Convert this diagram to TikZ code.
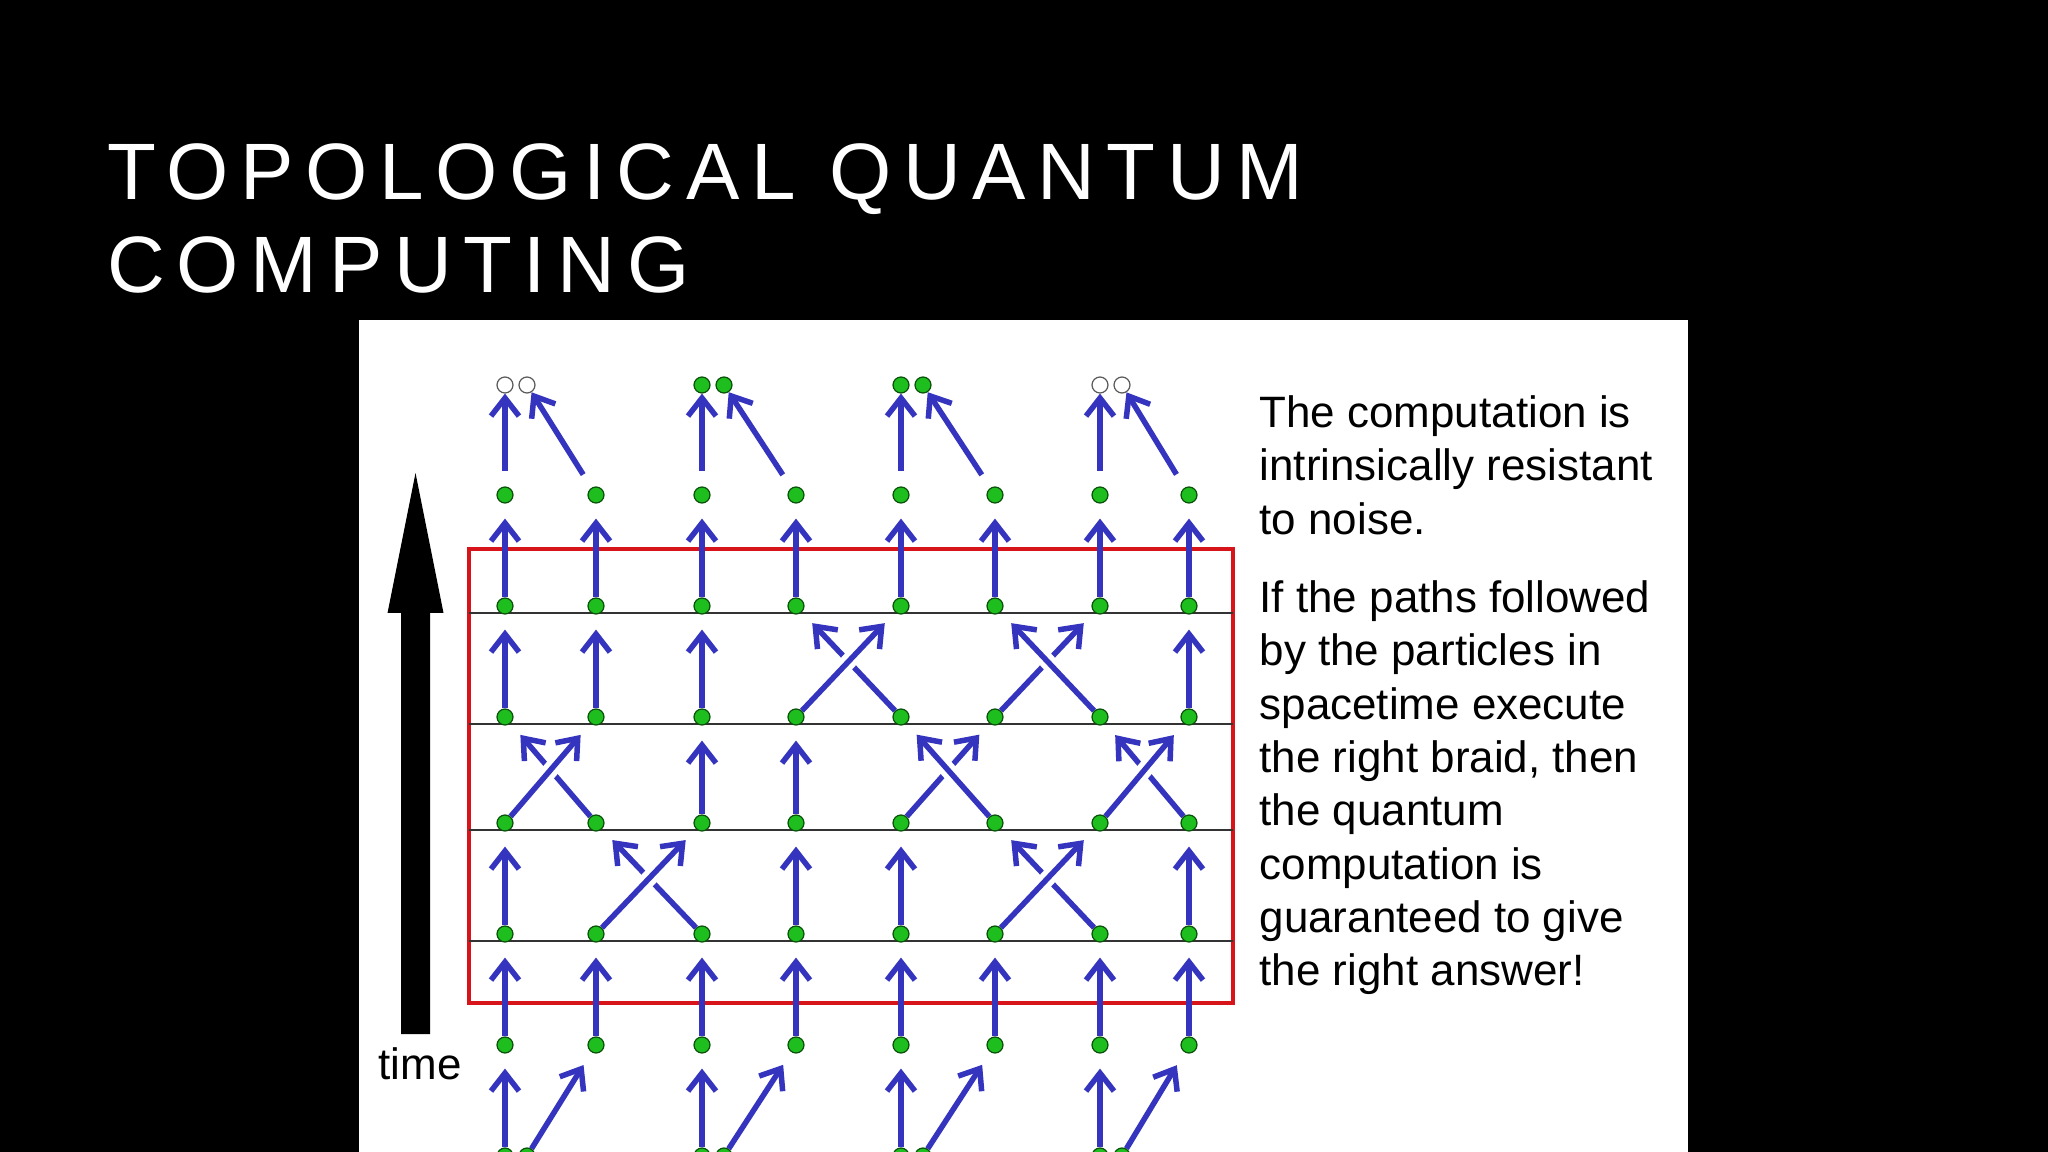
\documentclass[tikz,border=0pt]{standalone}
\usepackage{fontspec}
\setmainfont{Liberation Sans}
\newfontfamily\titlefont[LetterSpace=14.5]{Liberation Sans}
\usepackage{tikz}
\usetikzlibrary{arrows.meta,backgrounds}
\usepackage{xcolor}
\definecolor{braidblue}{RGB}{52,52,190}
\definecolor{dotgreen}{RGB}{30,190,30}
\definecolor{dotrim}{RGB}{10,80,10}
\definecolor{boxred}{RGB}{215,20,25}

\begin{document}
\begin{tikzpicture}[
  dot/.style={circle, draw=dotrim, fill=dotgreen, line width=0.12mm, minimum size=1.6mm, inner sep=0pt},
  hole/.style={dot, draw=black!65, fill=white},
  world/.style={draw=braidblue, line width=0.55mm, -{Straight Barb[length=1.8mm, width=2.8mm]}, shorten >=1.5mm},
  over/.style={world, preaction={draw=white, line width=1.6mm, arrows=-, shorten <=3mm, shorten >=3mm}},
  merge/.style={world, shorten <=1.55mm, shorten >=0pt},
  slice/.style={draw=black!80, line width=0.15mm},
  note/.style={font=\fontsize{12.5}{15.17}\selectfont, align=left, inner sep=0pt, anchor=north west}
]
\useasboundingbox (0,0) rectangle (20.48,-11.52);
\begin{scope}[on background layer]
\fill[black] (0,0) rectangle (20.48,-11.52);
\fill[white] (3.59,-3.20) rectangle (16.88,-11.52);
\draw[boxred, line width=0.45mm] (4.69,-5.49) rectangle (12.33,-10.03);
\draw[slice] (4.69,-6.13) -- (12.33,-6.13);
\draw[slice] (4.69,-7.24) -- (12.33,-7.24);
\draw[slice] (4.69,-8.30) -- (12.33,-8.30);
\draw[slice] (4.69,-9.41) -- (12.33,-9.41);
\end{scope}

\node[anchor=north west, inner sep=0pt, align=left, text=white, font=\titlefont\fontsize{22.76}{26.46}\selectfont] (title) at (1.07,-1.43) {TOPOLOGICAL QUANTUM\\COMPUTING};
\node[note] (noise) at (12.59,-3.95) {The computation is\\intrinsically resistant\\to noise.};
\node[note] (braid) at (12.59,-5.80) {If the paths followed\\by the particles in\\spacetime execute\\the right braid, then\\the quantum\\computation is\\guaranteed to give\\the right answer!};
\node[anchor=base west, inner sep=0pt, font=\fontsize{12.5}{15.17}\selectfont] (time) at (3.78,-10.79) {time};
\fill[black] (4.155,-4.73) -- (4.435,-6.13) -- (4.30,-6.13) -- (4.30,-10.34) -- (4.01,-10.34) -- (4.01,-6.13) -- (3.875,-6.13) -- cycle;

\node[dot] (b1) at (5.05,-11.56) {};
\node[dot] (b2) at (5.27,-11.56) {};
\node[dot] (b3) at (7.02,-11.56) {};
\node[dot] (b4) at (7.24,-11.56) {};
\node[dot] (b5) at (9.01,-11.56) {};
\node[dot] (b6) at (9.23,-11.56) {};
\node[dot] (b7) at (11.00,-11.56) {};
\node[dot] (b8) at (11.22,-11.56) {};
\node[dot] (a11) at (5.05,-10.45) {};
\node[dot] (a12) at (5.96,-10.45) {};
\node[dot] (a13) at (7.02,-10.45) {};
\node[dot] (a14) at (7.96,-10.45) {};
\node[dot] (a15) at (9.01,-10.45) {};
\node[dot] (a16) at (9.95,-10.45) {};
\node[dot] (a17) at (11.00,-10.45) {};
\node[dot] (a18) at (11.89,-10.45) {};
\node[dot] (a21) at (5.05,-9.34) {};
\node[dot] (a22) at (5.96,-9.34) {};
\node[dot] (a23) at (7.02,-9.34) {};
\node[dot] (a24) at (7.96,-9.34) {};
\node[dot] (a25) at (9.01,-9.34) {};
\node[dot] (a26) at (9.95,-9.34) {};
\node[dot] (a27) at (11.00,-9.34) {};
\node[dot] (a28) at (11.89,-9.34) {};
\node[dot] (a31) at (5.05,-8.23) {};
\node[dot] (a32) at (5.96,-8.23) {};
\node[dot] (a33) at (7.02,-8.23) {};
\node[dot] (a34) at (7.96,-8.23) {};
\node[dot] (a35) at (9.01,-8.23) {};
\node[dot] (a36) at (9.95,-8.23) {};
\node[dot] (a37) at (11.00,-8.23) {};
\node[dot] (a38) at (11.89,-8.23) {};
\node[dot] (a41) at (5.05,-7.17) {};
\node[dot] (a42) at (5.96,-7.17) {};
\node[dot] (a43) at (7.02,-7.17) {};
\node[dot] (a44) at (7.96,-7.17) {};
\node[dot] (a45) at (9.01,-7.17) {};
\node[dot] (a46) at (9.95,-7.17) {};
\node[dot] (a47) at (11.00,-7.17) {};
\node[dot] (a48) at (11.89,-7.17) {};
\node[dot] (a51) at (5.05,-6.06) {};
\node[dot] (a52) at (5.96,-6.06) {};
\node[dot] (a53) at (7.02,-6.06) {};
\node[dot] (a54) at (7.96,-6.06) {};
\node[dot] (a55) at (9.01,-6.06) {};
\node[dot] (a56) at (9.95,-6.06) {};
\node[dot] (a57) at (11.00,-6.06) {};
\node[dot] (a58) at (11.89,-6.06) {};
\node[dot] (a61) at (5.05,-4.95) {};
\node[dot] (a62) at (5.96,-4.95) {};
\node[dot] (a63) at (7.02,-4.95) {};
\node[dot] (a64) at (7.96,-4.95) {};
\node[dot] (a65) at (9.01,-4.95) {};
\node[dot] (a66) at (9.95,-4.95) {};
\node[dot] (a67) at (11.00,-4.95) {};
\node[dot] (a68) at (11.89,-4.95) {};
\node[hole] (t1) at (5.05,-3.85) {};
\node[hole] (t2) at (5.27,-3.85) {};
\node[dot] (t3) at (7.02,-3.85) {};
\node[dot] (t4) at (7.24,-3.85) {};
\node[dot] (t5) at (9.01,-3.85) {};
\node[dot] (t6) at (9.23,-3.85) {};
\node[hole] (t7) at (11.00,-3.85) {};
\node[hole] (t8) at (11.22,-3.85) {};

\begin{scope}[on background layer]
\draw[world] (b1) -- (a11);
\draw[world] (b2) -- (a12);
\draw[world] (b3) -- (a13);
\draw[world] (b4) -- (a14);
\draw[world] (b5) -- (a15);
\draw[world] (b6) -- (a16);
\draw[world] (b7) -- (a17);
\draw[world] (b8) -- (a18);
\draw[world] (a11) -- (a21);
\draw[world] (a12) -- (a22);
\draw[world] (a13) -- (a23);
\draw[world] (a14) -- (a24);
\draw[world] (a15) -- (a25);
\draw[world] (a16) -- (a26);
\draw[world] (a17) -- (a27);
\draw[world] (a18) -- (a28);
\draw[world] (a21) -- (a31);
\draw[world] (a23) -- (a32);
\draw[over] (a22) -- (a33);
\draw[world] (a24) -- (a34);
\draw[world] (a25) -- (a35);
\draw[world] (a27) -- (a36);
\draw[over] (a26) -- (a37);
\draw[world] (a28) -- (a38);
\draw[world] (a32) -- (a41);
\draw[over] (a31) -- (a42);
\draw[world] (a33) -- (a43);
\draw[world] (a34) -- (a44);
\draw[world] (a35) -- (a46);
\draw[over] (a36) -- (a45);
\draw[world] (a38) -- (a47);
\draw[over] (a37) -- (a48);
\draw[world] (a41) -- (a51);
\draw[world] (a42) -- (a52);
\draw[world] (a43) -- (a53);
\draw[world] (a45) -- (a54);
\draw[over] (a44) -- (a55);
\draw[world] (a46) -- (a57);
\draw[over] (a47) -- (a56);
\draw[world] (a48) -- (a58);
\draw[world] (a51) -- (a61);
\draw[world] (a52) -- (a62);
\draw[world] (a53) -- (a63);
\draw[world] (a54) -- (a64);
\draw[world] (a55) -- (a65);
\draw[world] (a56) -- (a66);
\draw[world] (a57) -- (a67);
\draw[world] (a58) -- (a68);
\draw[merge] (a61) -- (t1);
\draw[merge] (a62) -- (t2);
\draw[merge] (a63) -- (t3);
\draw[merge] (a64) -- (t4);
\draw[merge] (a65) -- (t5);
\draw[merge] (a66) -- (t6);
\draw[merge] (a67) -- (t7);
\draw[merge] (a68) -- (t8);
\end{scope}
\end{tikzpicture}
\end{document}
